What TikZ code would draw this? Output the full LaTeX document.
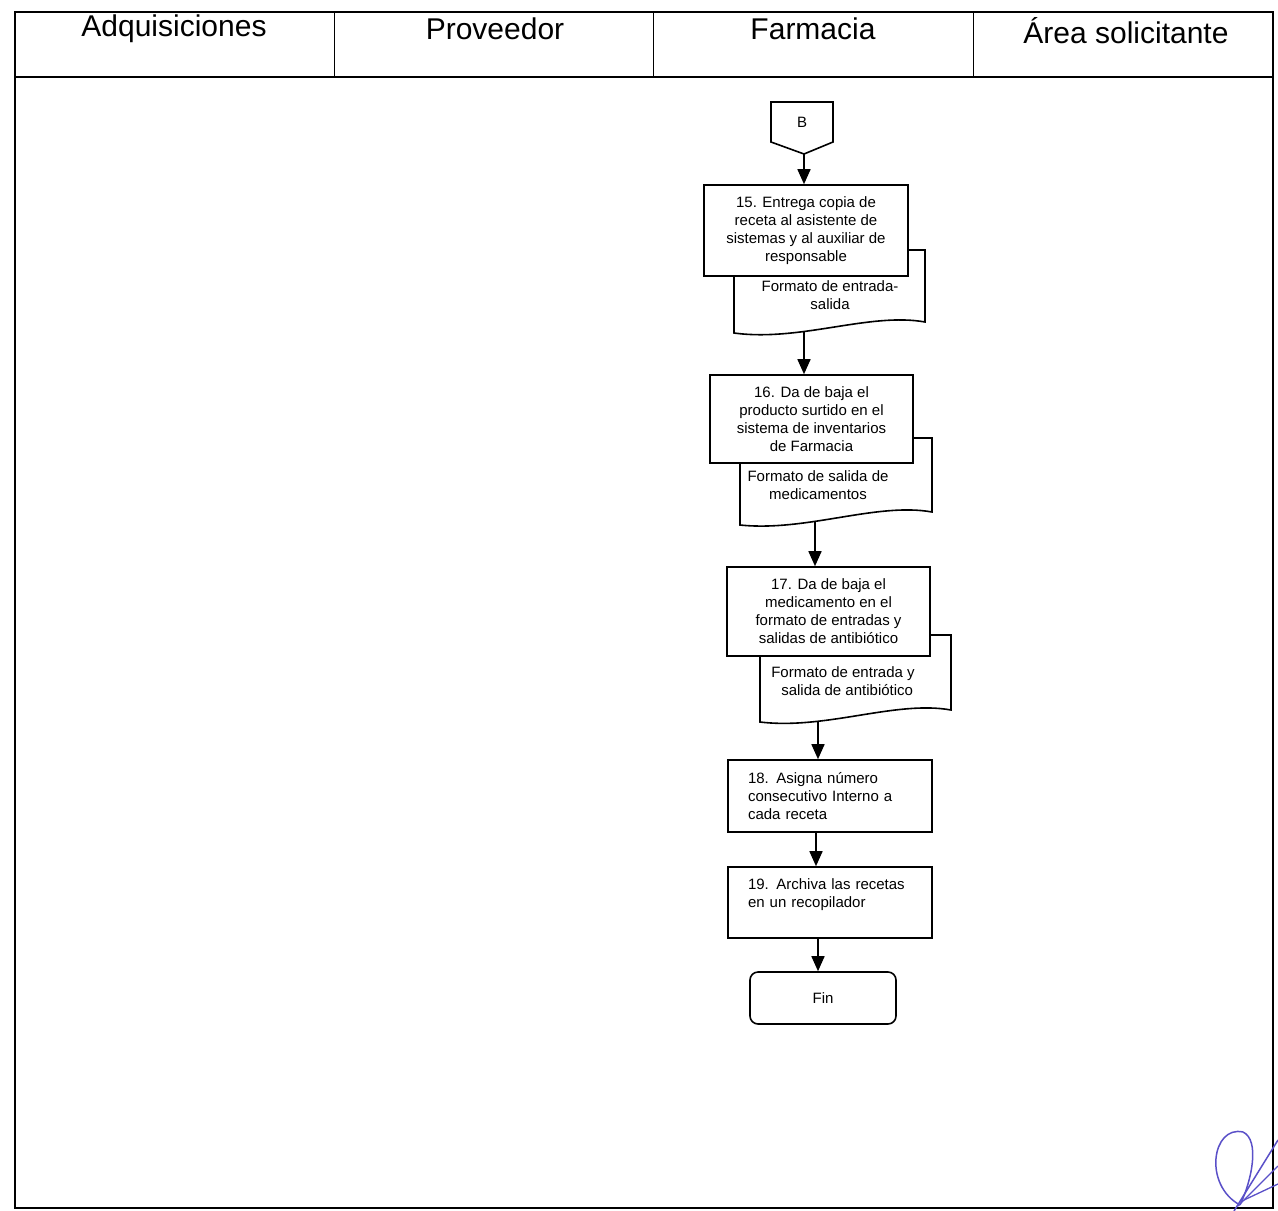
\documentclass[tikz,border=0pt]{standalone}
\usepackage{fontspec}
\setmainfont{Liberation Sans}
\usetikzlibrary{positioning, arrows.meta}
\definecolor{firma}{HTML}{5A50C8}

\begin{document}
\begin{tikzpicture}[x=1pt, y=-1pt,
    proc/.style={draw, fill=white, line width=1.6pt, align=center, inner sep=0pt,
      font=\fontsize{15}{18}\selectfont},
    doc/.style={draw, fill=white, line width=1.6pt},
    note/.style={align=center, inner sep=0pt, font=\fontsize{15}{18}\selectfont},
    flow/.style={line width=1.6pt, -{Triangle[length=15pt, width=13pt]}},
    lane/.style={font=\fontsize{30}{34}\selectfont}]
       \useasboundingbox (0,0) rectangle (1278,1211);

       % marco y encabezado
       \draw[line width=1.4pt] (15,12) rectangle (1273,1208);
       \draw[line width=2pt] (15,77) -- (1273,77);
       \foreach \x in {334, 653, 973}
         \draw[line width=1pt] (\x,12) -- (\x,77);
       \node[lane] (adq)  at ( 174, 29) {Adquisiciones};
       \node[lane] (prov) at ( 495, 29) {Proveedor};
       \node[lane] (farm) at ( 813, 29) {Farmacia};
       \node[lane] (area) at (1126, 31) {Área solicitante};

       % conector B
       \draw[line width=1.6pt, fill=white] (771,102) -- (833,102) -- (833,142) -- (804,154) -- (771,142) -- cycle;
       \node[note] (B) at (802,122) {B};
       \coordinate (Bt) at (804,154);

       % documentos
       \draw[doc] (734,250) -- (925,250) -- (925,322) .. controls (870,312) and (800,342) .. (734,333) -- cycle;
       \draw[doc] (740,438) -- (932,438) -- (932,512) .. controls (877,502) and (806,532) .. (740,525) -- cycle;
       \draw[doc] (760,635) -- (951,635) -- (951,710) .. controls (896,700) and (826,730) .. (760,722) -- cycle;
       \node[note] (f15) at (830,295) {Formato de entrada-\\salida};
       \node[note] (f16) at (818,485) {Formato de salida de\\medicamentos};
       \node[note] (f17) at (843,681) {Formato de entrada y\\\ \ salida de antibiótico};
       \coordinate (d15) at (804,332);
       \coordinate (d16) at (815,522);
       \coordinate (d17) at (818,721);

       % actividades
       \node[proc, minimum width=204pt, minimum height=91pt] (b15) at (806,230.5)
         {15. Entrega copia de\\receta al asistente de\\sistemas y al auxiliar de\\responsable};
       \node[proc, minimum width=203pt, minimum height=88pt] (b16) at (811.5,419)
         {16. Da de baja el\\producto surtido en el\\sistema de inventarios\\de Farmacia};
       \node[proc, minimum width=203pt, minimum height=89pt] (b17) at (828.5,611.5)
         {17. Da de baja el\\medicamento en el\\formato de entradas y\\salidas de antibiótico};
       \node[proc, minimum width=204pt, minimum height=72pt, text width=164pt, align=left] (b18) at (830,796)
         {18. Asigna número\\consecutivo Interno a\\cada receta};
       \node[proc, minimum width=204pt, minimum height=71pt, text width=164pt, align=left] (b19) at (830,902.5)
         {19. Archiva las recetas\\en un recopilador\\\mbox{}};
       \node[proc, rounded corners=8pt, minimum width=146pt, minimum height=52pt] (fin) at (823,998) {Fin};

       % flechas
       \draw[flow] (Bt) -- (Bt |- b15.north);
       \draw[flow] (d15) -- (d15 |- b16.north);
       \draw[flow] (d16) -- (d16 |- b17.north);
       \draw[flow] (d17) -- (d17 |- b18.north);
       \draw[flow] ([xshift=-14pt]b18.south) -- ([xshift=-14pt]b19.north);
       \draw[flow] ([xshift=-5pt]fin.north |- b19.south) -- ([xshift=-5pt]fin.north);

       % firma
       \draw[firma, line width=1.5pt] (1240,1205) .. controls (1203,1185) and (1212,1125) .. (1243,1132)
         .. controls (1260,1140) and (1252,1180) .. (1240,1205);
       \draw[firma, line width=1.5pt] (1234,1211) -- (1278,1140);
       \draw[firma, line width=1.3pt] (1238,1206) -- (1278,1166);
       \draw[firma, line width=1.3pt] (1244,1200) -- (1278,1184);
    \end{tikzpicture}
\end{document}
